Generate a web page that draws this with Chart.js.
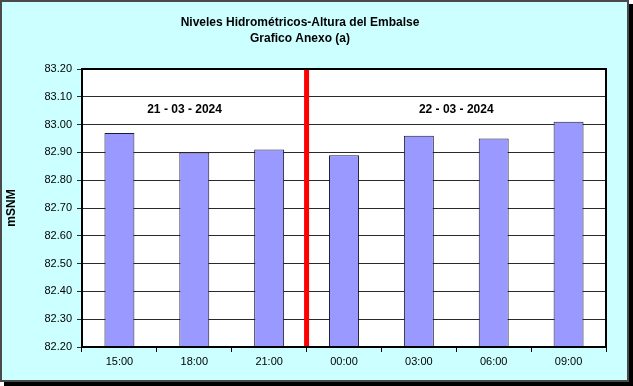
<!DOCTYPE html>
<html>
<head>
<meta charset="utf-8">
<script src="https://cdn.jsdelivr.net/npm/chart.js@4/dist/chart.umd.min.js"></script>
<style>
html,body{margin:0;padding:0;background:#fff;}
canvas{display:block;}
</style>
</head>
<body>
<canvas id="c" width="633" height="386"></canvas>
<script>
// ---- data ----
const categories = ["15:00", "18:00", "21:00", "00:00", "03:00", "06:00", "09:00"];
const levels = [82.97, 82.90, 82.91, 82.89, 82.96, 82.95, 83.01];
const titleLines = ["Niveles Hidrométricos-Altura del Embalse", "Grafico Anexo (a)"];
const yAxisTitle = "mSNM";
const dayLabels = ["21 - 03 - 2024", "22 - 03 - 2024"];
const dayLabelPositions = [0.87, 4.5];  // category-index positions of the day captions
const dayLabelValue = 83.055;           // y value of the day captions
const dayBreak = 2.5;                   // category-index position of the red separator
const yMin = 82.2, yMax = 83.2, yStep = 0.1;

const FONT = "'Liberation Sans', Arial, sans-serif";

const decor = {
  id: 'decor',
  beforeDraw(chart) {
    const ctx = chart.ctx, ca = chart.chartArea;
    ctx.save();
    ctx.fillStyle = '#ffffff';
    ctx.fillRect(0, 0, chart.width, chart.height);
    // shadow
    ctx.fillStyle = '#000000';
    ctx.fillRect(4, 4, 629, 382);
    // frame
    ctx.fillStyle = '#CCFFFF';
    ctx.fillRect(0, 0, 629, 382);
    ctx.strokeStyle = '#4a4a4a';
    ctx.lineWidth = 2;
    ctx.strokeRect(1, 1, 627, 380);
    // plot area
    ctx.fillStyle = '#ffffff';
    ctx.fillRect(ca.left, ca.top, ca.right - ca.left, ca.bottom - ca.top);
    ctx.restore();
  },
  afterDatasetsDraw(chart) {
    const ctx = chart.ctx, ca = chart.chartArea;
    const xs = chart.scales.x;
    const x = xs.getPixelForValue(dayBreak);
    ctx.save();
    ctx.strokeStyle = '#FF0000';
    ctx.lineWidth = 5;
    ctx.beginPath();
    ctx.moveTo(x, ca.top);
    ctx.lineTo(x, ca.bottom);
    ctx.stroke();
    ctx.restore();
  },
  afterDraw(chart) {
    const ctx = chart.ctx, ca = chart.chartArea;
    const xs = chart.scales.x, ys = chart.scales.y;
    ctx.save();
    ctx.strokeStyle = '#000000';
    ctx.lineWidth = 2;
    ctx.strokeRect(ca.left, ca.top, ca.right - ca.left, ca.bottom - ca.top);
    ctx.fillStyle = '#000000';
    ctx.textAlign = 'center';
    ctx.textBaseline = 'middle';
    ctx.font = 'bold 12px ' + FONT;
    ctx.fillText(titleLines[0], 300, 23);
    ctx.fillText(titleLines[1], 300, 39);
    dayLabels.forEach((t, i) => {
      ctx.fillText(t, xs.getPixelForValue(dayLabelPositions[i]), ys.getPixelForValue(dayLabelValue));
    });
    ctx.restore();
  }
};

new Chart(document.getElementById('c'), {
  type: 'bar',
  data: {
    labels: categories,
    datasets: [{
      data: levels,
      backgroundColor: '#9999FF',
      borderColor: '#1a1a33',
      borderWidth: 1,
      barPercentage: 0.4,
      categoryPercentage: 1.0
    }]
  },
  options: {
    responsive: false,
    animation: false,
    devicePixelRatio: 1,
    layout: { padding: { left: 0, top: 69, right: 27, bottom: 0 } },
    plugins: { legend: { display: false }, tooltip: { enabled: false }, title: { display: false } },
    scales: {
      x: {
        afterFit(s) { s.height = 39; },
        grid: { offset: true, drawOnChartArea: false, color: '#000', tickLength: 5, lineWidth: 1 },
        border: { display: false },
        ticks: { color: '#000', font: { family: FONT, size: 11 }, padding: 3, maxRotation: 0 }
      },
      y: {
        min: yMin, max: yMax,
        afterFit(s) { s.width = 82; },
        grid: { color: '#2a2a2a', tickLength: 5, lineWidth: 1 },
        border: { display: false },
        ticks: {
          stepSize: yStep, color: '#000', padding: 5,
          font: { family: FONT, size: 11 },
          callback: v => Number(v).toFixed(2)
        },
        title: { display: true, text: yAxisTitle, color: '#000', font: { family: FONT, size: 12, weight: 'bold' } }
      }
    }
  },
  plugins: [decor]
});
</script>
</body>
</html>
